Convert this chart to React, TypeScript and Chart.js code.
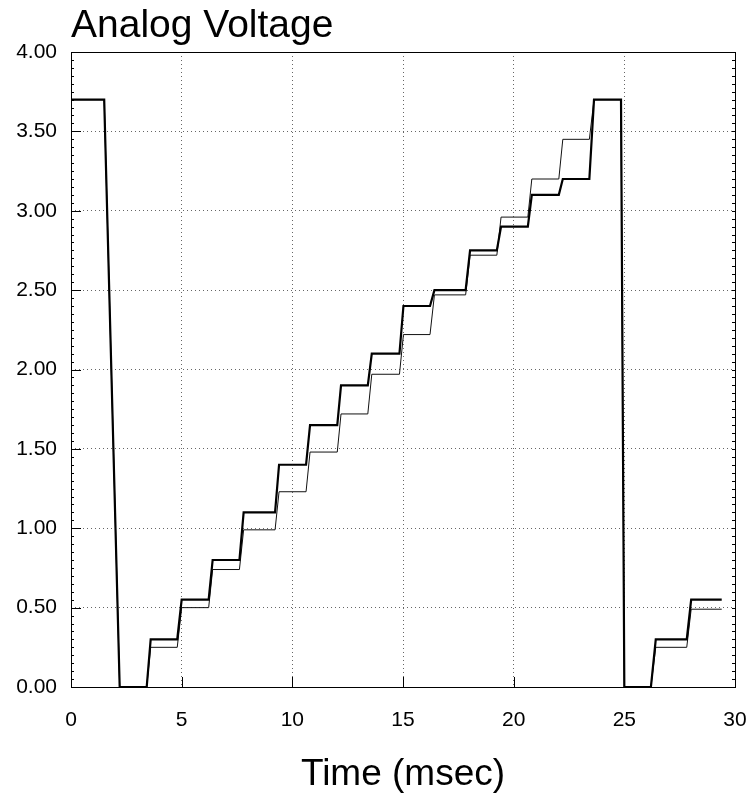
import React, { useEffect, useRef } from "react";
import { Chart, registerables } from "chart.js";

Chart.register(...registerables);

// Time stamps (ms) of every corner of the two staircase traces
const timeMs = [
  0, 1.5, 2.2,
  3.42, 3.6, 4.8, 5.0, 6.22, 6.4, 7.61, 7.8, 9.22, 9.4, 10.62, 10.8,
  12.03, 12.2, 13.41, 13.59, 14.84, 15.02, 16.22, 16.42, 17.83, 18.03,
  19.24, 19.43, 20.64, 20.82, 22.04, 22.22, 23.42, 23.63,
  24.85, 25.0, 26.2, 26.42, 27.82, 28.02, 29.4,
];

// Thick trace (V)
const thickVolts = [
  3.7, 3.7, 0,
  0, 0.3, 0.3, 0.55, 0.55, 0.8, 0.8, 1.1, 1.1, 1.4, 1.4, 1.65,
  1.65, 1.9, 1.9, 2.1, 2.1, 2.4, 2.4, 2.5, 2.5, 2.75,
  2.75, 2.9, 2.9, 3.1, 3.1, 3.2, 3.2, 3.7,
  3.7, 0, 0, 0.3, 0.3, 0.55, 0.55,
];

// Thin trace (V)
const thinVolts = [
  3.7, 3.7, 0,
  0, 0.25, 0.25, 0.5, 0.5, 0.74, 0.74, 0.99, 0.99, 1.23, 1.23, 1.48,
  1.48, 1.72, 1.72, 1.97, 1.97, 2.22, 2.22, 2.47, 2.47, 2.72,
  2.72, 2.96, 2.96, 3.2, 3.2, 3.45, 3.45, 3.7,
  3.7, 0, 0, 0.25, 0.25, 0.49, 0.49,
];

const xTicks = [0, 5, 10, 15, 20, 25, 30];
const yTicks = [0, 0.5, 1, 1.5, 2, 2.5, 3, 3.5, 4];

const FONT = "'Liberation Sans', Arial, Helvetica, sans-serif";

const framePlugin = {
  id: "frame",
  afterDraw(chart: any) {
    const { ctx, chartArea: a, scales } = chart;
    const xs = scales.x;
    const ys = scales.y;
    ctx.save();
    ctx.setLineDash([]);
    ctx.strokeStyle = "#000";
    ctx.lineWidth = 1;
    ctx.beginPath();
    // minor ticks on left / right
    for (let i = 0; i <= 80; i++) {
      const py = Math.round(ys.getPixelForValue(i * 0.05)) + 0.5;
      ctx.moveTo(a.left, py);
      ctx.lineTo(a.left + 3, py);
      ctx.moveTo(a.right, py);
      ctx.lineTo(a.right - 3, py);
    }
    // major ticks pointing inward
    yTicks.forEach((v) => {
      const py = Math.round(ys.getPixelForValue(v)) + 0.5;
      ctx.moveTo(a.left, py);
      ctx.lineTo(a.left + 10, py);
    });
    xTicks.forEach((v) => {
      const px = Math.round(xs.getPixelForValue(v)) + 0.5;
      ctx.moveTo(px, a.bottom);
      ctx.lineTo(px, a.bottom - 10);
    });
    ctx.stroke();
    ctx.strokeRect(
      Math.round(a.left) + 0.5,
      Math.round(a.top) + 0.5,
      Math.round(a.right - a.left),
      Math.round(a.bottom - a.top)
    );
    ctx.restore();
  },
};

export default function App() {
  const ref = useRef<HTMLCanvasElement | null>(null);

  useEffect(() => {
    document.body.style.margin = "0";
    const canvas = ref.current;
    if (!canvas) return;
    const chart = new Chart(canvas, {
      type: "line",
      data: {
        datasets: [
          {
            label: "Thick",
            data: timeMs.map((t, i) => ({ x: t, y: thickVolts[i] })),
            borderColor: "#000",
            borderWidth: 2.2,
            pointRadius: 0,
            tension: 0,
            fill: false,
          },
          {
            label: "Thin",
            data: timeMs.map((t, i) => ({ x: t, y: thinVolts[i] })),
            borderColor: "#111",
            borderWidth: 1,
            pointRadius: 0,
            tension: 0,
            fill: false,
          },
        ],
      },
      options: {
        responsive: false,
        animation: false,
        layout: { padding: { left: 0, right: 16, top: 0, bottom: 0 } },
        plugins: {
          legend: { display: false },
          tooltip: { enabled: false },
          title: {
            display: true,
            text: "Analog Voltage",
            align: "start",
            fullSize: false,
            color: "#000",
            font: { family: FONT, size: 39, weight: "normal", lineHeight: 1.2 },
            padding: { top: 3, bottom: 2.2 },
          },
        },
        scales: {
          x: {
            type: "linear",
            min: 0,
            max: 30,
            afterFit: (s: any) => {
              s.height = 110;
            },
            afterBuildTicks: (s: any) => {
              s.ticks = xTicks.map((v) => ({ value: v }));
            },
            ticks: {
              color: "#000",
              font: { family: FONT, size: 21 },
              padding: 3,
              maxRotation: 0,
              callback: (v: any) => String(v),
            },
            grid: {
              color: "#666",
              lineWidth: 1,
              drawTicks: true,
              tickLength: 18,
              tickColor: "rgba(0,0,0,0)",
            },
            border: { display: false, dash: [1, 3] },
            title: {
              display: true,
              text: "Time (msec)",
              color: "#000",
              font: { family: FONT, size: 37, weight: "normal", lineHeight: 1.2 },
              padding: { top: 0, bottom: 0 },
            },
          },
          y: {
            type: "linear",
            min: 0,
            max: 4,
            afterFit: (s: any) => {
              s.width = 71;
            },
            afterBuildTicks: (s: any) => {
              s.ticks = yTicks.map((v) => ({ value: v }));
            },
            ticks: {
              color: "#000",
              font: { family: FONT, size: 21 },
              padding: 14,
              callback: (v: any) => Number(v).toFixed(2),
            },
            grid: { color: "#666", lineWidth: 1, drawTicks: false },
            border: { display: false, dash: [1, 3] },
          },
        },
      },
      plugins: [framePlugin],
    } as any);
    return () => chart.destroy();
  }, []);

  return (
    <canvas
      ref={ref}
      width={751}
      height={797}
      style={{ display: "block", width: 751, height: 797 }}
    />
  );
}
